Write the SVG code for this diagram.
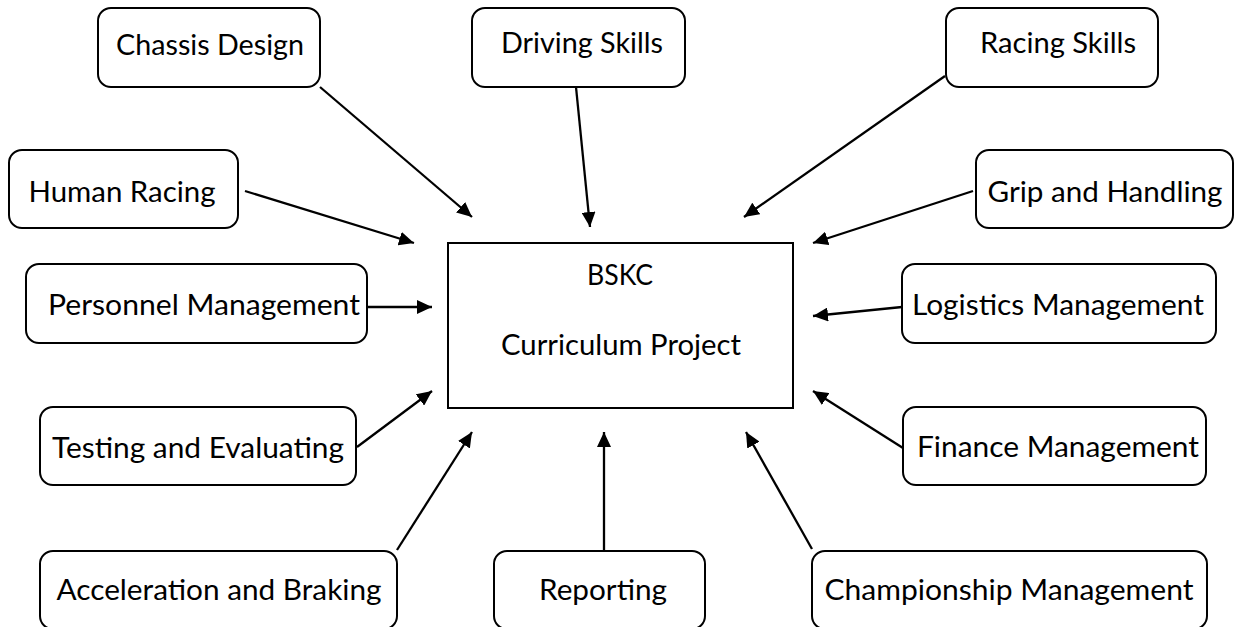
<svg xmlns="http://www.w3.org/2000/svg" width="1235" height="627" viewBox="0 0 1235 627">
<style>
  .box{fill:#fff;stroke:#000;stroke-width:2}
  .lbl{font-family:"Lato","Liberation Sans",sans-serif;font-size:29px;fill:#000;text-anchor:middle}
  .con line{stroke:#000;stroke-width:2.3;marker-end:url(#ah)}
</style>
<defs>
  <marker id="ah" markerUnits="userSpaceOnUse" markerWidth="16" markerHeight="14" refX="15" refY="7" orient="auto">
    <path d="M0,0 L15,7 L0,14 z" fill="#000"/>
  </marker>
</defs>
<rect width="1235" height="627" fill="#fff"/>
<g id="center">
  <rect class="box" x="448" y="243" width="345" height="165"/>
  <text class="lbl" x="620" y="285" textLength="66" lengthAdjust="spacingAndGlyphs">BSKC</text>
  <text class="lbl" x="621" y="355" textLength="240" lengthAdjust="spacingAndGlyphs">Curriculum Project</text>
</g>
<g id="chassis"><rect class="box" x="98" y="8" width="222" height="79" rx="13"/><text class="lbl" x="210" y="55" textLength="188" lengthAdjust="spacingAndGlyphs">Chassis Design</text></g>
<g id="driving"><rect class="box" x="472" y="8" width="213" height="79" rx="13"/><text class="lbl" x="582" y="53" textLength="162" lengthAdjust="spacingAndGlyphs">Driving Skills</text></g>
<g id="racing"><rect class="box" x="946" y="8" width="212" height="79" rx="13"/><text class="lbl" x="1058" y="53" textLength="156" lengthAdjust="spacingAndGlyphs">Racing Skills</text></g>
<g id="human"><rect class="box" x="9" y="150" width="229" height="78" rx="13"/><text class="lbl" x="122" y="202" textLength="187" lengthAdjust="spacingAndGlyphs">Human Racing</text></g>
<g id="grip"><rect class="box" x="976" y="150" width="257" height="78" rx="13"/><text class="lbl" x="1105" y="202" textLength="235" lengthAdjust="spacingAndGlyphs">Grip and Handling</text></g>
<g id="personnel"><rect class="box" x="26" y="264" width="341" height="79" rx="13"/><text class="lbl" x="204" y="315" textLength="312" lengthAdjust="spacingAndGlyphs">Personnel Management</text></g>
<g id="logistics"><rect class="box" x="902" y="264" width="314" height="79" rx="13"/><text class="lbl" x="1058" y="315" textLength="292" lengthAdjust="spacingAndGlyphs">Logistics Management</text></g>
<g id="testing"><rect class="box" x="40" y="407" width="316" height="78" rx="13"/><text class="lbl" x="198" y="458" textLength="292" lengthAdjust="spacingAndGlyphs">Testing and Evaluating</text></g>
<g id="finance"><rect class="box" x="903" y="407" width="303" height="78" rx="13"/><text class="lbl" x="1058" y="457" textLength="282" lengthAdjust="spacingAndGlyphs">Finance Management</text></g>
<g id="acceleration"><rect class="box" x="40" y="551" width="357" height="78" rx="13"/><text class="lbl" x="219" y="600" textLength="325" lengthAdjust="spacingAndGlyphs">Acceleration and Braking</text></g>
<g id="reporting"><rect class="box" x="494" y="551" width="211" height="78" rx="13"/><text class="lbl" x="603" y="600" textLength="128" lengthAdjust="spacingAndGlyphs">Reporting</text></g>
<g id="championship"><rect class="box" x="812" y="551" width="395" height="78" rx="13"/><text class="lbl" x="1009" y="600" textLength="369" lengthAdjust="spacingAndGlyphs">Championship Management</text></g>
<g id="connectors" class="con">
  <line x1="320" y1="87" x2="472" y2="217"/>
  <line x1="576" y1="87" x2="590" y2="227"/>
  <line x1="945" y1="76" x2="744" y2="217"/>
  <line x1="245" y1="191" x2="414" y2="243"/>
  <line x1="973" y1="191" x2="813" y2="243"/>
  <line x1="367" y1="307" x2="432" y2="307"/>
  <line x1="902" y1="307" x2="813" y2="316"/>
  <line x1="357" y1="447" x2="432" y2="391"/>
  <line x1="903" y1="448" x2="813" y2="391"/>
  <line x1="397" y1="550" x2="472" y2="432"/>
  <line x1="604" y1="551" x2="604" y2="432"/>
  <line x1="812" y1="549" x2="746" y2="432"/>
</g>
</svg>
